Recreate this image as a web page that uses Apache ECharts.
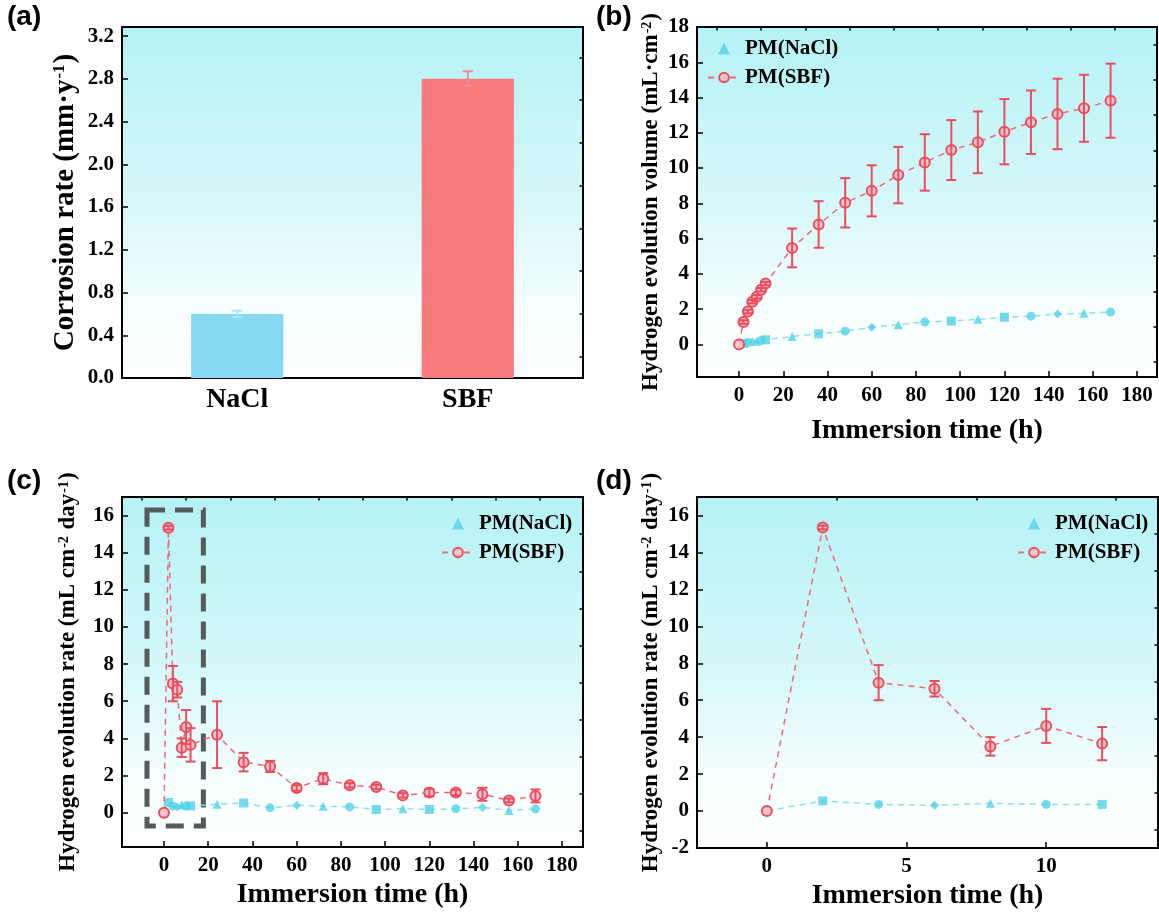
<!DOCTYPE html>
<html>
<head>
<meta charset="utf-8">
<script src="https://cdn.jsdelivr.net/npm/echarts@6/dist/echarts.min.js"></script>
<style>
  html, body { margin: 0; padding: 0; background: #fff; }
  #chart { width: 1159px; height: 913px; }
</style>
</head>
<body>
<div id="chart"></div>
<script>
// (a) corrosion rate
const rateCategories = ['NaCl', 'SBF']
const corrosionRate = [0.60, 2.80]
const corrosionErr = [0.03, 0.07]

// (b) hydrogen evolution volume
const volTime = [0, 2, 4, 6, 8, 10, 12, 24, 36, 48, 60, 72, 84, 96, 108, 120, 132, 144, 156, 168]
const volNaCl = [0, 0.05, 0.1, 0.14, 0.18, 0.22, 0.26, 0.45, 0.6, 0.75, 0.97, 1.12, 1.27, 1.32, 1.42, 1.54, 1.6, 1.72, 1.76, 1.83]
const volSBF = [0, 1.27, 1.86, 2.42, 2.7, 3.1, 3.45, 5.47, 6.8, 8.03, 8.71, 9.6, 10.32, 11.02, 11.46, 12.06, 12.6, 13.07, 13.39, 13.82]
const volSBFErr = [0, 0.1, 0.1, 0.1, 0.1, 0.1, 0.1, 1.1, 1.32, 1.4, 1.45, 1.6, 1.6, 1.7, 1.75, 1.85, 1.8, 2.0, 1.9, 2.1]

// (c) hydrogen evolution rate, (d) first 12 h of it
const rateTime = [0, 2, 4, 6, 8, 10, 12, 24, 36, 48, 60, 72, 84, 96, 108, 120, 132, 144, 156, 168]
const rateNaCl = [0, 0.55, 0.36, 0.31, 0.42, 0.36, 0.36, 0.45, 0.52, 0.26, 0.4, 0.34, 0.31, 0.17, 0.21, 0.17, 0.21, 0.28, 0.12, 0.2]
const rateSBF = [0, 15.35, 6.95, 6.62, 3.5, 4.61, 3.65, 4.2, 2.72, 2.49, 1.33, 1.83, 1.47, 1.38, 0.93, 1.08, 1.08, 0.99, 0.66, 0.9]
const rateSBFErr = [0, 0.1, 0.95, 0.42, 0.5, 0.92, 0.9, 1.8, 0.5, 0.3, 0.15, 0.3, 0.12, 0.12, 0.12, 0.2, 0.15, 0.35, 0.1, 0.35]
const earlyCount = 7

// dashed box in (c) marking the first hours
const boxTime = [-7.7, 17.8]
const boxRate = [-0.72, 16.3]

// ticks
const timeTicks = [0, 20, 40, 60, 80, 100, 120, 140, 160, 180]
const timeMinor = [-10, 10, 30, 50, 70, 90, 110, 130, 150, 170]
const earlyTicks = [0, 5, 10]
const earlyMinor = [2.5, 7.5, 12.5]
const corrTicks = [0, 0.4, 0.8, 1.2, 1.6, 2.0, 2.4, 2.8, 3.2]
const corrMinor = [0.2, 0.6, 1.0, 1.4, 1.8, 2.2, 2.6, 3.0]
const volTicks = [0, 2, 4, 6, 8, 10, 12, 14, 16, 18]
const volMinor = [-1, 1, 3, 5, 7, 9, 11, 13, 15, 17]
const rateTicks = [-2, 0, 2, 4, 6, 8, 10, 12, 14, 16]
const rateMinor = [-1, 1, 3, 5, 7, 9, 11, 13, 15]

const serif = 'Liberation Serif'
const red = '#ec4d5e'
const cyan = '#52d2e6'
const nacSymbols = ['triangle', 'rect', 'circle', 'diamond', 'triangle', 'circle', 'rect']

const chart = echarts.init(document.getElementById('chart'))

const bg = () => new echarts.graphic.LinearGradient(0, 0, 0, 1, [
  { offset: 0, color: '#b5f2f6' },
  { offset: 0.5, color: '#d6f8fa' },
  { offset: 0.8, color: '#f6fefe' },
  { offset: 1, color: '#ffffff' }
])

const grids = [
  { left: 122, top: 27, width: 461, height: 351 },
  { left: 697, top: 27, width: 460, height: 350 },
  { left: 122, top: 497, width: 461, height: 350 },
  { left: 697, top: 497, width: 461, height: 351 }
].map(g => Object.assign(g, {
  show: true, borderColor: '#000', borderWidth: 2, backgroundColor: bg()
}))

function majorAxis(gridIndex, min, max, ticks, extra) {
  return Object.assign({
    type: 'value', gridIndex, min, max,
    axisLine: { show: true, onZero: false, lineStyle: { color: '#000', width: 2 } },
    axisTick: { show: true, inside: true, length: 6, customValues: ticks, lineStyle: { color: '#000', width: 1.5 } },
    axisLabel: { customValues: ticks, color: '#000', fontFamily: serif, fontWeight: 'bold', fontSize: 21, margin: 8 },
    splitLine: { show: false },
    nameLocation: 'middle',
    nameTextStyle: { color: '#000', fontFamily: serif, fontWeight: 'bold', fontSize: 28 }
  }, extra || {})
}

function minorAxis(gridIndex, min, max, ticks) {
  return {
    type: 'value', gridIndex, min, max,
    axisLine: { show: false, onZero: false },
    axisTick: { show: true, inside: true, length: 3.5, customValues: ticks, lineStyle: { color: '#000', width: 1.5 } },
    axisLabel: { show: false },
    splitLine: { show: false }
  }
}

const rich = size => ({
  n: { fontFamily: serif, fontWeight: 'bold', fontSize: size, color: '#000' },
  s: { fontFamily: serif, fontWeight: 'bold', fontSize: Math.round(size * 0.6), color: '#000', verticalAlign: 'top', padding: [0, 1, 0, 1] }
})

const volName = '{n|Hydrogen evolution volume (mL·cm}{s|-2}{n|)}'
const rateName = '{n|Hydrogen evolution rate (mL cm}{s|-2}{n| day}{s|-1}{n|)}'

const xAxes = [
  {
    type: 'category', gridIndex: 0, data: rateCategories,
    axisLine: { lineStyle: { color: '#000', width: 2 } },
    axisTick: { show: false },
    axisLabel: { color: '#000', fontFamily: serif, fontWeight: 'bold', fontSize: 28, margin: 8 }
  },
  majorAxis(1, -19, 189, timeTicks, { name: 'Immersion time (h)', nameGap: 40 }),
  minorAxis(1, -19, 189, timeMinor),
  majorAxis(2, -19, 189.5, timeTicks, { name: 'Immersion time (h)', nameGap: 34 }),
  minorAxis(2, -19, 189.5, timeMinor),
  majorAxis(3, -2.5, 14, earlyTicks, { name: 'Immersion time (h)', nameGap: 34 }),
  minorAxis(3, -2.5, 14, earlyMinor)
]

const yAxes = [
  majorAxis(0, 0, 3.285, corrTicks, {
    name: '{n|Corrosion rate (mm·y}{s|-1}{n|)}', nameGap: 42,
    nameTextStyle: { rich: rich(29) },
    axisLabel: { customValues: corrTicks, color: '#000', fontFamily: serif, fontWeight: 'bold', fontSize: 21, margin: 8, formatter: v => v.toFixed(1) }
  }),
  minorAxis(0, 0, 3.285, corrMinor),
  majorAxis(1, -1.85, 18, volTicks, { name: volName, nameGap: 34, nameTextStyle: { rich: rich(23) } }),
  minorAxis(1, -1.85, 18, volMinor),
  majorAxis(2, -1.85, 17, rateTicks.slice(1), { name: rateName, nameGap: 42, nameTextStyle: { rich: rich(23) } }),
  minorAxis(2, -1.85, 17, rateMinor),
  majorAxis(3, -2, 17, rateTicks, { name: rateName, nameGap: 34, nameTextStyle: { rich: rich(23) } }),
  minorAxis(3, -2, 17, rateMinor)
]

function errorBars(xIdx, yIdx, xs, ys, errs, color, cap) {
  return {
    type: 'custom', xAxisIndex: xIdx, yAxisIndex: yIdx, z: 4, silent: true,
    data: xs.map((x, i) => [x, ys[i], errs[i]]),
    renderItem: (params, api) => {
      const x = api.value(0), y = api.value(1), e = api.value(2)
      if (!e) return null
      const hi = api.coord([x, y + e])
      const lo = api.coord([x, y - e])
      const st = { stroke: color, lineWidth: 2 }
      return {
        type: 'group',
        children: [
          { type: 'line', shape: { x1: hi[0], y1: hi[1], x2: lo[0], y2: lo[1] }, style: st },
          { type: 'line', shape: { x1: hi[0] - cap, y1: hi[1], x2: hi[0] + cap, y2: hi[1] }, style: st },
          { type: 'line', shape: { x1: lo[0] - cap, y1: lo[1], x2: lo[0] + cap, y2: lo[1] }, style: st }
        ]
      }
    }
  }
}

function nacl(xIdx, yIdx, xs, ys) {
  return {
    name: 'PM(NaCl)', type: 'line', xAxisIndex: xIdx, yAxisIndex: yIdx, z: 2,
    data: xs.map((x, i) => [x, ys[i]]),
    symbol: (v, p) => nacSymbols[p.dataIndex % nacSymbols.length],
    symbolSize: 9,
    itemStyle: { color: cyan, opacity: 0.8 },
    lineStyle: { color: '#8fe0ec', width: 1.5, type: [6, 5] }
  }
}

function sbf(xIdx, yIdx, xs, ys, extra) {
  return Object.assign({
    name: 'PM(SBF)', type: 'line', xAxisIndex: xIdx, yAxisIndex: yIdx, z: 3,
    data: xs.map((x, i) => [x, ys[i]]),
    symbol: 'circle', symbolSize: 10,
    itemStyle: { color: '#ffc4ca', borderColor: red, borderWidth: 2 },
    lineStyle: { color: '#ef6a78', width: 1.5, type: [6, 5] }
  }, extra || {})
}

const legendBase = {
  orient: 'vertical', itemWidth: 32, itemHeight: 12, itemGap: 8,
  symbolKeepAspect: true,
  textStyle: { color: '#000', fontFamily: serif, fontWeight: 'bold', fontSize: 21 },
  data: [{ name: 'PM(NaCl)', icon: 'path://M0,10L5,0L10,10Z' }, 'PM(SBF)']
}

const earlyTime = rateTime.slice(0, earlyCount)

const option = {
  animation: false,
  backgroundColor: '#fff',
  grid: grids,
  xAxis: xAxes,
  yAxis: yAxes,
  legend: [
    Object.assign({ left: 702, top: 33 }, legendBase),
    Object.assign({ left: 436, top: 508 }, legendBase),
    Object.assign({ left: 1012, top: 508 }, legendBase)
  ],
  graphic: [
    { type: 'text', left: 7, top: 3, style: { text: '(a)', font: 'bold 28px "Liberation Sans"', fill: '#000' } },
    { type: 'text', left: 596, top: 3, style: { text: '(b)', font: 'bold 28px "Liberation Sans"', fill: '#000' } },
    { type: 'text', left: 7, top: 467, style: { text: '(c)', font: 'bold 28px "Liberation Sans"', fill: '#000' } },
    { type: 'text', left: 596, top: 467, style: { text: '(d)', font: 'bold 28px "Liberation Sans"', fill: '#000' } }
  ],
  series: [
    {
      name: 'Corrosion rate', type: 'bar', xAxisIndex: 0, yAxisIndex: 0,
      barWidth: '40%',
      data: corrosionRate.map((v, i) => ({
        value: v,
        itemStyle: { color: i === 0 ? '#86d8f0' : '#f77b7d' }
      }))
    },
    errorBars(0, 0, [0], corrosionRate.slice(0, 1), corrosionErr.slice(0, 1), '#a8e6f4', 5),
    errorBars(0, 0, [1], corrosionRate.slice(1), corrosionErr.slice(1), '#f08a94', 5),

    nacl(1, 2, volTime, volNaCl),
    sbf(1, 2, volTime, volSBF),
    errorBars(1, 2, volTime, volSBF, volSBFErr, red, 5),

    nacl(3, 4, rateTime, rateNaCl),
    sbf(3, 4, rateTime, rateSBF, {
      markArea: {
        silent: true,
        itemStyle: { color: 'rgba(0,0,0,0)', borderColor: '#555a5c', borderWidth: 5, borderType: [18, 10] },
        data: [[{ coord: [boxTime[0], boxRate[1]] }, { coord: [boxTime[1], boxRate[0]] }]]
      }
    }),
    errorBars(3, 4, rateTime, rateSBF, rateSBFErr, red, 5),

    nacl(5, 6, earlyTime, rateNaCl.slice(0, earlyCount)),
    sbf(5, 6, earlyTime, rateSBF.slice(0, earlyCount)),
    errorBars(5, 6, earlyTime, rateSBF.slice(0, earlyCount), rateSBFErr.slice(0, earlyCount), red, 5)
  ]
}

chart.setOption(option)
</script>
</body>
</html>
